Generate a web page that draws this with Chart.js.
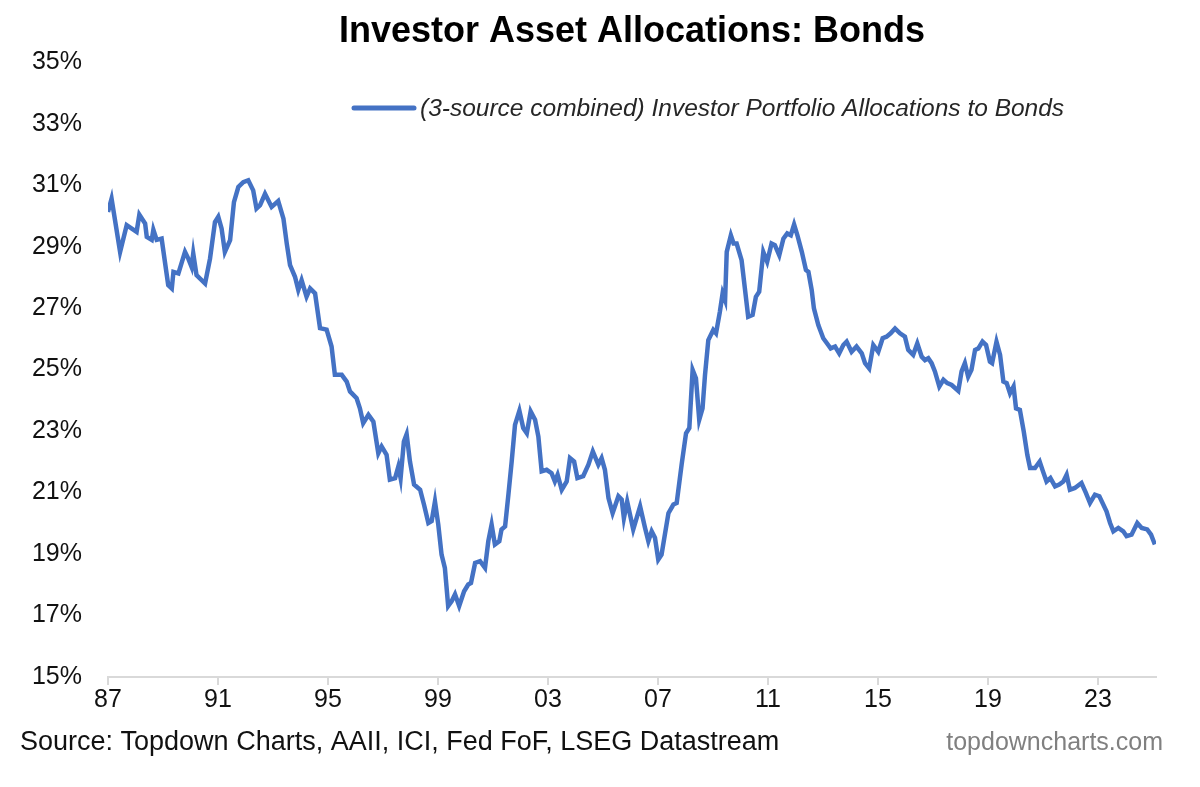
<!DOCTYPE html>
<html>
<head>
<meta charset="utf-8">
<title>Investor Asset Allocations: Bonds</title>
<script src="https://cdn.jsdelivr.net/npm/chart.js@4.4.1/dist/chart.umd.min.js"></script>
<style>
  html, body { margin: 0; padding: 0; background: #fff; }
  #wrap { width: 1200px; height: 787px; }
</style>
</head>
<body>
<div id="wrap"><canvas id="bonds"></canvas></div>
<script>
// decimal years
const dates = [
  1987.00, 1987.13, 1987.44, 1987.68, 1988.04, 1988.14, 1988.35, 1988.41, 1988.59, 1988.65,
  1988.77, 1988.95, 1989.19, 1989.32, 1989.38, 1989.56, 1989.80, 1989.92, 1990.04, 1990.10,
  1990.22, 1990.53, 1990.71, 1990.89, 1991.01, 1991.13, 1991.25, 1991.44, 1991.58, 1991.74,
  1991.92, 1992.10, 1992.28, 1992.40, 1992.53, 1992.71, 1992.95, 1993.19, 1993.38, 1993.50,
  1993.62, 1993.80, 1993.92, 1994.04, 1994.22, 1994.35, 1994.53, 1994.71, 1994.95, 1995.13,
  1995.25, 1995.50, 1995.68, 1995.80, 1996.04, 1996.16, 1996.28, 1996.47, 1996.65, 1996.83,
  1996.95, 1997.13, 1997.25, 1997.44, 1997.56, 1997.64, 1997.76, 1997.86, 1997.98, 1998.13,
  1998.35, 1998.49, 1998.65, 1998.77, 1998.89, 1999.01, 1999.13, 1999.25, 1999.37, 1999.50,
  1999.62, 1999.77, 1999.95, 2000.10, 2000.20, 2000.35, 2000.53, 2000.71, 2000.83, 2000.95,
  2001.07, 2001.23, 2001.31, 2001.44, 2001.56, 2001.68, 2001.80, 2001.96, 2002.10, 2002.23,
  2002.37, 2002.53, 2002.65, 2002.77, 2002.95, 2003.13, 2003.25, 2003.35, 2003.50, 2003.68,
  2003.80, 2003.95, 2004.07, 2004.28, 2004.47, 2004.63, 2004.83, 2004.95, 2005.07, 2005.20,
  2005.35, 2005.56, 2005.68, 2005.76, 2005.88, 2006.10, 2006.35, 2006.53, 2006.65, 2006.77,
  2006.89, 2007.01, 2007.13, 2007.25, 2007.38, 2007.56, 2007.68, 2007.86, 2008.02, 2008.14,
  2008.26, 2008.38, 2008.50, 2008.62, 2008.71, 2008.83, 2009.01, 2009.11, 2009.25, 2009.35,
  2009.44, 2009.50, 2009.65, 2009.75, 2009.86, 2010.04, 2010.16, 2010.28, 2010.44, 2010.56,
  2010.68, 2010.83, 2010.97, 2011.13, 2011.25, 2011.41, 2011.56, 2011.70, 2011.83, 2011.95,
  2012.07, 2012.23, 2012.38, 2012.47, 2012.59, 2012.67, 2012.83, 2013.01, 2013.19, 2013.28,
  2013.44, 2013.59, 2013.74, 2013.86, 2014.04, 2014.22, 2014.41, 2014.53, 2014.68, 2014.83,
  2015.01, 2015.17, 2015.31, 2015.46, 2015.62, 2015.80, 2015.98, 2016.10, 2016.28, 2016.43,
  2016.59, 2016.71, 2016.83, 2016.95, 2017.07, 2017.23, 2017.38, 2017.52, 2017.68, 2017.92,
  2018.04, 2018.16, 2018.28, 2018.40, 2018.53, 2018.65, 2018.80, 2018.93, 2019.07, 2019.15,
  2019.31, 2019.44, 2019.56, 2019.68, 2019.80, 2019.93, 2020.02, 2020.16, 2020.30, 2020.43,
  2020.53, 2020.71, 2020.88, 2021.00, 2021.13, 2021.27, 2021.44, 2021.59, 2021.74, 2021.86,
  2021.98, 2022.16, 2022.40, 2022.56, 2022.71, 2022.89, 2023.05, 2023.31, 2023.44, 2023.56,
  2023.74, 2023.92, 2024.04, 2024.22, 2024.43, 2024.59, 2024.79, 2024.93, 2025.07
];

// allocation to bonds, %
const bondAlloc = [
  30.13, 30.56, 28.83, 29.70, 29.48, 30.04, 29.75, 29.32, 29.22, 29.55,
  29.22, 29.26, 27.75, 27.64, 28.18, 28.13, 28.83, 28.61, 28.34, 28.78,
  28.07, 27.80, 28.61, 29.80, 29.97, 29.59, 28.83, 29.21, 30.45, 30.94,
  31.10, 31.16, 30.83, 30.24, 30.35, 30.72, 30.29, 30.48, 29.91, 29.10,
  28.40, 28.02, 27.59, 27.91, 27.37, 27.64, 27.48, 26.35, 26.30, 25.75,
  24.83, 24.83, 24.61, 24.29, 24.07, 23.74, 23.26, 23.53, 23.31, 22.28,
  22.50, 22.23, 21.42, 21.47, 21.85, 21.47, 22.66, 22.90, 22.01, 21.26,
  21.09, 20.61, 20.01, 20.07, 20.71, 19.96, 18.98, 18.55, 17.31, 17.47,
  17.69, 17.31, 17.79, 18.01, 18.06, 18.71, 18.77, 18.55, 19.42, 19.96,
  19.31, 19.42, 19.80, 19.90, 20.93, 22.01, 23.20, 23.66, 23.10, 22.93,
  23.64, 23.37, 22.82, 21.69, 21.74, 21.63, 21.36, 21.58, 21.09, 21.36,
  22.12, 22.01, 21.47, 21.53, 21.91, 22.34, 21.91, 22.12, 21.74, 20.82,
  20.33, 20.88, 20.77, 20.17, 20.71, 19.80, 20.55, 19.85, 19.42, 19.74,
  19.53, 18.82, 18.98, 19.63, 20.33, 20.61, 20.66, 21.91, 22.93, 23.10,
  24.99, 24.72, 23.37, 23.74, 24.83, 25.96, 26.29, 26.18, 26.88, 27.48,
  27.26, 28.83, 29.37, 29.10, 29.10, 28.56, 27.64, 26.72, 26.78, 27.37,
  27.53, 28.83, 28.51, 29.10, 29.05, 28.72, 29.26, 29.43, 29.37, 29.72,
  29.37, 28.83, 28.24, 28.18, 27.59, 26.99, 26.45, 26.02, 25.80, 25.69,
  25.75, 25.53, 25.80, 25.91, 25.58, 25.75, 25.53, 25.21, 25.04, 25.80,
  25.58, 26.02, 26.07, 26.18, 26.34, 26.18, 26.07, 25.64, 25.48, 25.85,
  25.42, 25.31, 25.37, 25.21, 24.94, 24.45, 24.67, 24.56, 24.50, 24.31,
  24.94, 25.21, 24.77, 24.99, 25.64, 25.69, 25.91, 25.80, 25.26, 25.21,
  25.91, 25.48, 24.61, 24.56, 24.23, 24.45, 23.74, 23.69, 22.99, 22.23,
  21.80, 21.80, 22.01, 21.69, 21.36, 21.47, 21.20, 21.26, 21.36, 21.58,
  21.09, 21.15, 21.31, 20.99, 20.66, 20.93, 20.88, 20.39, 20.01, 19.74,
  19.85, 19.74, 19.58, 19.63, 20.01, 19.85, 19.80, 19.63, 19.31
];

const tickYears = [1987, 1991, 1995, 1999, 2003, 2007, 2011, 2015, 2019, 2023];
const tickLabels = ['87', '91', '95', '99', '03', '07', '11', '15', '19', '23'];

const FONT = '"Liberation Sans", Arial, sans-serif';
const LINE_BLUE = '#4472C4';

// legend and footer texts, drawn over the canvas
const extras = {
  id: 'extras',
  afterDraw(chart) {
    const ctx = chart.ctx;
    ctx.save();
    // legend inside the plot
    ctx.strokeStyle = LINE_BLUE;
    ctx.lineWidth = 5;
    ctx.lineCap = 'round';
    ctx.beginPath();
    ctx.moveTo(354, 108);
    ctx.lineTo(414, 108);
    ctx.stroke();
    ctx.fillStyle = '#262626';
    ctx.font = 'italic 24.5px ' + FONT;
    ctx.textAlign = 'left';
    ctx.textBaseline = 'middle';
    ctx.fillText(chart.data.datasets[0].label, 420, 109);
    // source and site
    ctx.font = '27px ' + FONT;
    ctx.fillStyle = '#111';
    ctx.fillText('Source: Topdown Charts, AAII, ICI, Fed FoF, LSEG Datastream', 20, 743);
    ctx.textAlign = 'right';
    ctx.font = '25px ' + FONT;
    ctx.fillStyle = '#808080';
    ctx.fillText('topdowncharts.com', 1163, 743);
    ctx.restore();
  }
};

new Chart(document.getElementById('bonds'), {
  type: 'line',
  data: {
    datasets: [{
      label: '(3-source combined) Investor Portfolio Allocations to Bonds',
      data: dates.map((d, i) => ({x: d, y: bondAlloc[i]})),
      borderColor: LINE_BLUE,
      borderWidth: 4.5,
      pointRadius: 0,
      tension: 0,
      fill: false
    }]
  },
  options: {
    responsive: true,
    maintainAspectRatio: false,
    animation: false,
    layout: {
      padding: {left: 0, right: 44, top: 0, bottom: 72}
    },
    plugins: {
      legend: {display: false},
      tooltip: {enabled: false},
      title: {
        display: true,
        fullSize: false,
        text: 'Investor Asset Allocations: Bonds',
        color: '#000',
        font: {family: FONT, size: 36, weight: 'bold'},
        padding: {top: 10, bottom: 9}
      }
    },
    scales: {
      x: {
        type: 'linear',
        min: 1987,
        max: 2025.11,
        afterBuildTicks: (scale) => {
          scale.ticks = tickYears.map(v => ({value: v}));
        },
        ticks: {
          autoSkip: false,
          maxRotation: 0,
          padding: 0,
          color: '#111',
          font: {family: FONT, size: 25},
          callback: (v) => tickLabels[tickYears.indexOf(v)]
        },
        grid: {
          drawOnChartArea: false,
          color: '#d9d9d9',
          lineWidth: 2,
          tickLength: 8
        },
        border: {color: '#d9d9d9', width: 2}
      },
      y: {
        min: 15,
        max: 35,
        afterFit: (scale) => { scale.width = 108; },
        ticks: {
          stepSize: 2,
          padding: 18,
          color: '#111',
          font: {family: FONT, size: 25},
          callback: (v) => v + '%'
        },
        grid: {display: false},
        border: {display: false}
      }
    }
  },
  plugins: [extras]
});
</script>
</body>
</html>
